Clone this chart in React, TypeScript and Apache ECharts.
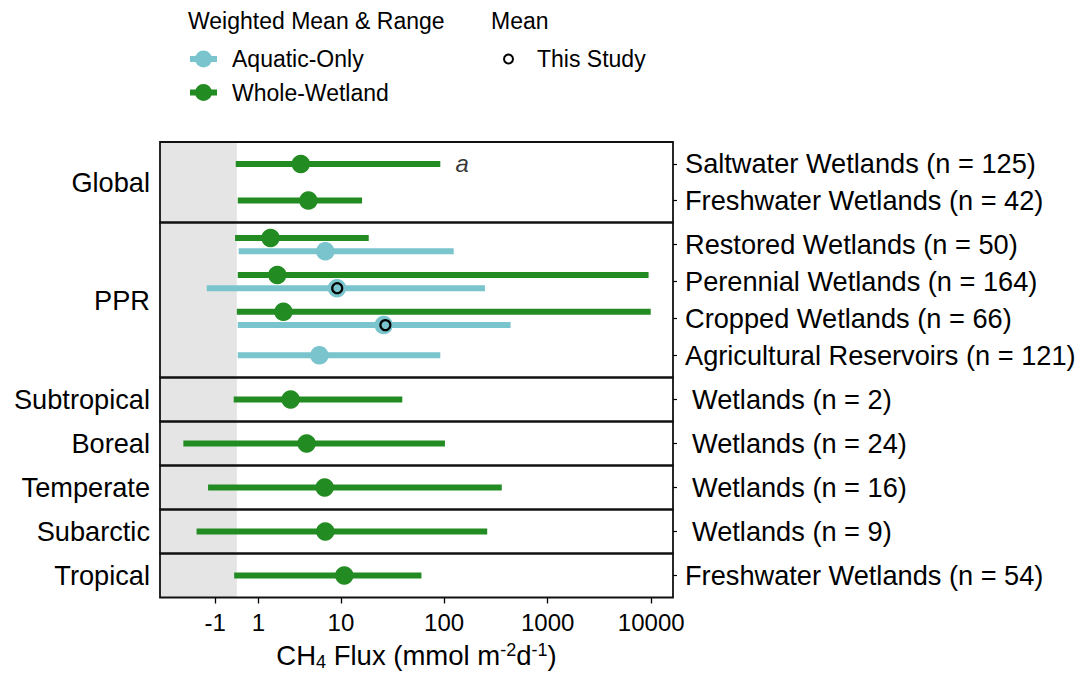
import React, { useEffect, useRef } from 'react';
import * as echarts from 'echarts';

// ---------------- data ----------------
const panelNames = ['Global', 'PPR', 'Subtropical', 'Boreal', 'Temperate', 'Subarctic', 'Tropical'];
const rowPanel = [0, 0, 1, 1, 1, 1, 2, 3, 4, 5, 6];
const rowLabels = [
  'Saltwater Wetlands (n = 125)',
  'Freshwater Wetlands (n = 42)',
  'Restored Wetlands (n = 50)',
  'Perennial Wetlands (n = 164)',
  'Cropped Wetlands (n = 66)',
  'Agricultural Reservoirs (n = 121)',
  'Wetlands (n = 2)',
  'Wetlands (n = 24)',
  'Wetlands (n = 16)',
  'Wetlands (n = 9)',
  'Freshwater Wetlands (n = 54)',
];
const wholeMean = [3.9, 4.7, 1.64, 2.05, 2.46, null, 3.0, 4.5, 6.9, 7.0, 10.8];
const wholeLow = [-0.05, 0.04, -0.08, 0.04, 0.0, null, -0.14, -2.98, -1.37, -2.04, -0.12];
const wholeHigh = [92, 16.1, 18.7, 9430, 9890, null, 39.5, 102, 361, 261, 60.5];
const aquaticMean = [null, null, 7.0, 9.15, 26.1, 6.1, null, null, null, null, null];
const aquaticLow = [null, null, 0.08, -1.44, 0.04, 0.04, null, null, null, null, null];
const aquaticHigh = [null, null, 124, 248, 439, 92, null, null, null, null, null];
const studyMean = [null, null, null, 9.2, 27.1, null, null, null, null, null, null];
const annotationText = 'a';
const annotationRow = 0;
const annotationX = 150;

const xTickValues = [-1, 1, 10, 100, 1000, 10000];
const xLimits = [-5.34, 16230];

// ---------------- layout / style ----------------
const FONT = '"Liberation Sans", Arial, Helvetica, sans-serif';
const GREEN = '#228B22';
const BLUE = '#7AC5CD';
const GRAY = '#E5E5E5';
const PLOT_LEFT = 160;
const PLOT_WIDTH = 513;
const panelTop = [142, 222.5, 377.5, 421.5, 465.5, 509.5, 553.5];
const panelHeight = [80.5, 155, 44, 44, 44, 44, 44];
const labelMargin = [12, 12, 19, 19, 19, 19, 12];
const DODGE = 0.18;
const KEY_ICON = 'path://M0,5.5 L27,5.5 L27,11.5 L0,11.5 Z M5,8.5 A8.5,8.5 0 1,1 22,8.5 A8.5,8.5 0 1,1 5,8.5 Z';

const T = (v: number) => Math.asinh(v / 2);

function rangeRender(color: string) {
  return (params: any, api: any) => {
    const y = api.value(2);
    const a = api.coord([api.value(0), y]);
    const b = api.coord([api.value(1), y]);
    return {
      type: 'line',
      shape: { x1: a[0], y1: a[1], x2: b[0], y2: b[1] },
      style: { stroke: color, lineWidth: 6, lineCap: 'butt' },
    };
  };
}

function buildOption() {
  const grids: any[] = [];
  const xAxes: any[] = [];
  const yAxes: any[] = [];
  const series: any[] = [];
  const graphics: any[] = [];

  panelNames.forEach((pn, p) => {
    const rows = rowPanel.map((rp, i) => (rp === p ? i : -1)).filter((i) => i >= 0);
    const n = rows.length;
    const isLast = p === panelNames.length - 1;
    grids.push({ left: PLOT_LEFT, width: PLOT_WIDTH, top: panelTop[p], height: panelHeight[p], show: false });

    const tickT = xTickValues.map(T);
    xAxes.push({
      gridIndex: p,
      type: 'value',
      min: T(xLimits[0]),
      max: T(xLimits[1]),
      axisLine: { show: false, onZero: false },
      splitLine: { show: false },
      axisTick: {
        show: isLast,
        customValues: tickT,
        length: 6,
        lineStyle: { color: '#000', width: 1.3 },
      },
      axisLabel: {
        show: isLast,
        customValues: tickT,
        margin: 13,
        fontSize: 24,
        color: '#000',
        fontFamily: FONT,
        formatter: (v: number) => {
          const t = xTickValues.find((tv) => Math.abs(T(tv) - v) < 1e-6);
          return t === undefined ? '' : String(t);
        },
      },
      name: isLast ? '{n|CH}{sub|4}{n| Flux (mmol m}{sup|-2}{n|d}{sup|-1}{n|)}' : '',
      nameLocation: 'middle',
      nameGap: 43,
      nameTextStyle: {
        fontSize: 27.5,
        lineHeight: 30,
        color: '#000',
        fontFamily: FONT,
        rich: {
          n: { fontSize: 27.5, lineHeight: 30, color: '#000', fontFamily: FONT },
          sub: { fontSize: 18, lineHeight: 14, verticalAlign: 'bottom', color: '#000', fontFamily: FONT },
          sup: { fontSize: 18, lineHeight: 12, verticalAlign: 'top', color: '#000', fontFamily: FONT },
        },
      },
    });

    const yVals = rows.map((_, k) => k + 1);
    const panelLabels = rows.map((r) => rowLabels[r]);
    yAxes.push({
      gridIndex: p,
      type: 'value',
      position: 'right',
      inverse: true,
      min: 0.4,
      max: n + 0.6,
      axisLine: { show: false, onZero: false },
      splitLine: { show: false },
      axisTick: { show: true, customValues: yVals, length: 4, lineStyle: { color: '#000', width: 1.2 } },
      axisLabel: {
        show: true,
        customValues: yVals,
        margin: labelMargin[p],
        fontSize: 27.2,
        color: '#000',
        fontFamily: FONT,
        formatter: (v: number) => panelLabels[Math.round(v) - 1] ?? '',
      },
    });
    yAxes.push({
      gridIndex: p,
      type: 'value',
      position: 'left',
      inverse: true,
      min: 0.4,
      max: n + 0.6,
      axisLine: { show: false, onZero: false },
      axisTick: { show: false },
      axisLabel: { show: false },
      splitLine: { show: false },
      name: pn,
      nameLocation: 'middle',
      nameRotate: 0,
      nameGap: 10,
      nameTextStyle: { fontSize: 27.2, color: '#000', fontFamily: FONT },
    });
    const yIdx = 2 * p;

    // grey background for negative values
    series.push({
      type: 'custom',
      name: 'negative-region',
      xAxisIndex: p,
      yAxisIndex: yIdx,
      silent: true,
      z: 1,
      data: [[T(xLimits[0]), 1]],
      encode: { x: 0, y: 1 },
      renderItem: (params: any, api: any) => {
        const cs = params.coordSys;
        const x0 = api.coord([0, 1])[0];
        return {
          type: 'rect',
          shape: { x: cs.x, y: cs.y, width: x0 - cs.x, height: cs.height },
          style: { fill: GRAY },
        };
      },
    });

    const wholeRange: any[] = [];
    const wholePts: any[] = [];
    const aqRange: any[] = [];
    const aqPts: any[] = [];
    const studyPts: any[] = [];
    rows.forEach((r, k) => {
      const y = k + 1;
      const hasW = wholeMean[r] != null;
      const hasA = aquaticMean[r] != null;
      const both = hasW && hasA;
      const yw = both ? y - DODGE : y;
      const ya = both ? y + DODGE : y;
      if (hasW) {
        wholeRange.push([T(wholeLow[r] as number), T(wholeHigh[r] as number), yw]);
        wholePts.push([T(wholeMean[r] as number), yw]);
      }
      if (hasA) {
        aqRange.push([T(aquaticLow[r] as number), T(aquaticHigh[r] as number), ya]);
        aqPts.push([T(aquaticMean[r] as number), ya]);
      }
      if (studyMean[r] != null) studyPts.push([T(studyMean[r] as number), ya]);
    });

    if (aqRange.length) {
      series.push({
        type: 'custom',
        name: 'Aquatic-Only range',
        xAxisIndex: p,
        yAxisIndex: yIdx,
        silent: true,
        z: 2,
        itemStyle: { color: BLUE },
        data: aqRange,
        encode: { x: [0, 1], y: 2 },
        renderItem: rangeRender(BLUE),
      });
      series.push({
        type: 'scatter',
        name: 'Aquatic-Only',
        xAxisIndex: p,
        yAxisIndex: yIdx,
        silent: true,
        z: 3,
        symbol: 'circle',
        symbolSize: 18.5,
        itemStyle: { color: BLUE, opacity: 1 },
        data: aqPts,
      });
    }
    if (wholeRange.length) {
      series.push({
        type: 'custom',
        name: 'Whole-Wetland range',
        xAxisIndex: p,
        yAxisIndex: yIdx,
        silent: true,
        z: 2,
        itemStyle: { color: GREEN },
        data: wholeRange,
        encode: { x: [0, 1], y: 2 },
        renderItem: rangeRender(GREEN),
      });
      series.push({
        type: 'scatter',
        name: 'Whole-Wetland',
        xAxisIndex: p,
        yAxisIndex: yIdx,
        silent: true,
        z: 3,
        symbol: 'circle',
        symbolSize: 18.5,
        itemStyle: { color: GREEN, opacity: 1 },
        data: wholePts,
      });
    }
    if (studyPts.length) {
      series.push({
        type: 'scatter',
        name: 'This Study',
        xAxisIndex: p,
        yAxisIndex: yIdx,
        silent: true,
        z: 4,
        symbol: 'circle',
        symbolSize: 10,
        itemStyle: { color: 'rgba(0,0,0,0)', borderColor: '#000', borderWidth: 2.2, opacity: 1 },
        data: studyPts,
      });
    }
    if (rowPanel[annotationRow] === p) {
      series.push({
        type: 'scatter',
        name: 'annotation',
        xAxisIndex: p,
        yAxisIndex: yIdx,
        silent: true,
        z: 4,
        symbolSize: 1,
        itemStyle: { color: 'rgba(0,0,0,0)' },
        label: {
          show: true,
          position: 'inside',
          formatter: annotationText,
          fontStyle: 'italic',
          fontSize: 24,
          color: '#000',
          fontFamily: FONT,
        },
        data: [[T(annotationX), rows.indexOf(annotationRow) + 1]],
      });
    }

    graphics.push({
      type: 'rect',
      silent: true,
      z: 100,
      shape: { x: PLOT_LEFT, y: panelTop[p], width: PLOT_WIDTH, height: panelHeight[p] },
      style: { fill: 'none', stroke: '#111', lineWidth: 1.8 },
    });
  });

  return {
    animation: false,
    backgroundColor: '#fff',
    textStyle: { fontFamily: FONT },
    title: [
      { text: 'Weighted Mean & Range', left: 188, top: 9, padding: 0, textStyle: { fontSize: 23, fontWeight: 'normal', color: '#000', fontFamily: FONT } },
      { text: 'Mean', left: 491, top: 9, padding: 0, textStyle: { fontSize: 23, fontWeight: 'normal', color: '#000', fontFamily: FONT } },
    ],
    legend: [
      {
        left: 190,
        top: 47.5,
        orient: 'vertical',
        padding: 0,
        itemGap: 10.5,
        itemWidth: 27,
        itemHeight: 17,
        selectedMode: false,
        textStyle: { fontSize: 23, color: '#000', fontFamily: FONT, padding: [0, 0, 0, 10] },
        data: [
          { name: 'Aquatic-Only', icon: KEY_ICON, itemStyle: { color: BLUE } },
          { name: 'Whole-Wetland', icon: KEY_ICON, itemStyle: { color: GREEN } },
        ],
      },
      {
        left: 503,
        top: 47.5,
        orient: 'vertical',
        padding: 0,
        itemWidth: 9,
        itemHeight: 9,
        selectedMode: false,
        textStyle: { fontSize: 23, color: '#000', fontFamily: FONT, padding: [0, 0, 0, 19] },
        data: [
          { name: 'This Study', icon: 'circle', itemStyle: { color: 'rgba(0,0,0,0)', borderColor: '#000', borderWidth: 2 } },
        ],
      },
    ],
    grid: grids,
    xAxis: xAxes,
    yAxis: yAxes,
    series,
    graphic: graphics,
  };
}

export default function App() {
  const ref = useRef<HTMLDivElement>(null);
  useEffect(() => {
    if (!ref.current) return;
    const chart = echarts.init(ref.current, null, { renderer: 'svg' });
    chart.setOption(buildOption() as any);
    return () => chart.dispose();
  }, []);
  return (
    <div
      ref={ref}
      style={{ position: 'absolute', left: 0, top: 0, width: 1091, height: 673, background: '#fff' }}
    />
  );
}
